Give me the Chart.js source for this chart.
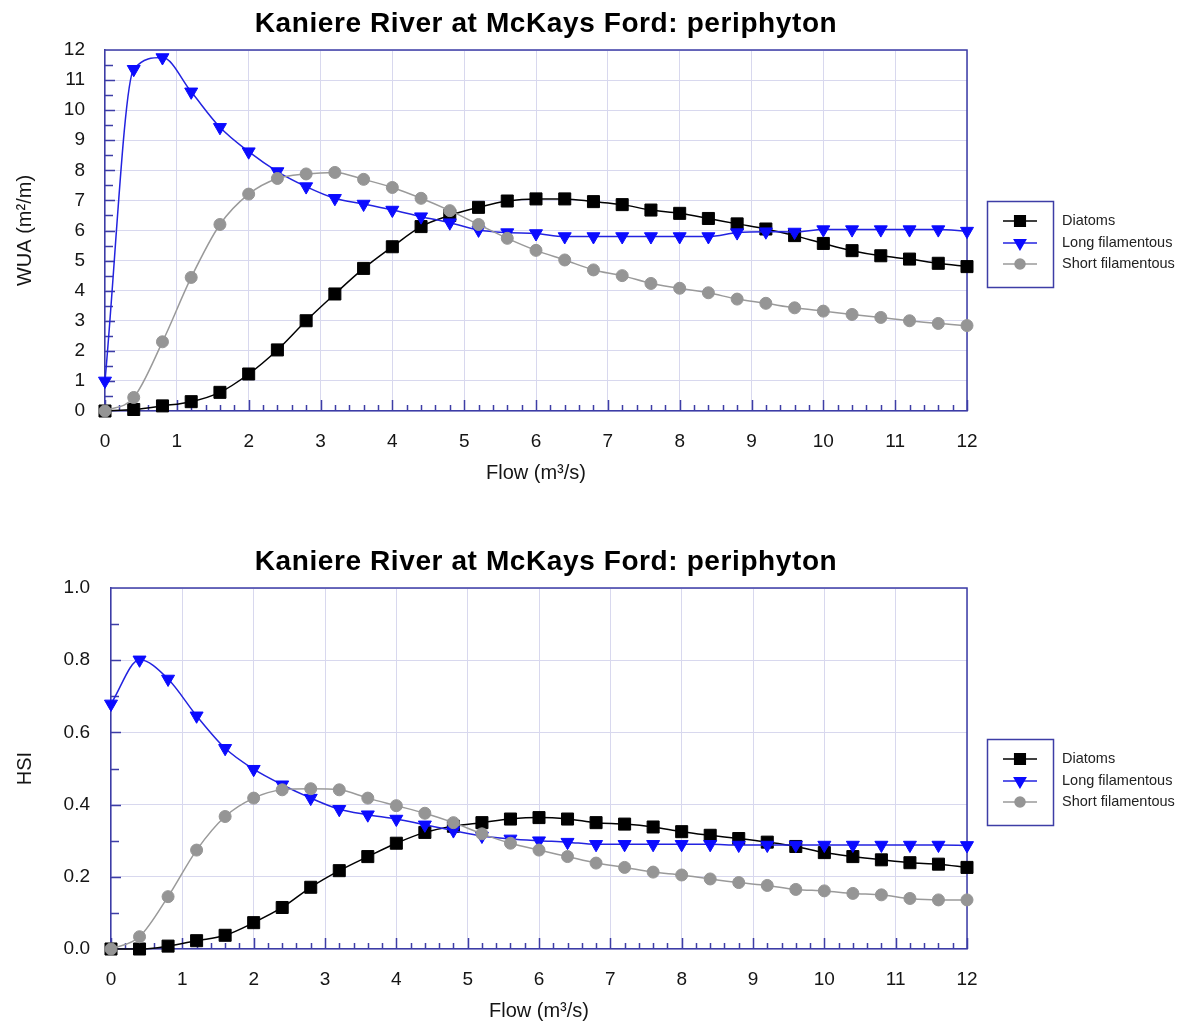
<!DOCTYPE html>
<html>
<head>
<meta charset="utf-8">
<title>Kaniere River at McKays Ford: periphyton</title>
<script src="https://cdn.jsdelivr.net/npm/chart.js@4.4.1/dist/chart.umd.min.js"></script>
<style>
  html, body { margin: 0; padding: 0; background: #fff; }
  canvas { position: absolute; left: 0; }
  #wuaChart { top: 0; }
  #hsiChart { top: 538px; }
</style>
</head>
<body>
<canvas id="wuaChart" width="1182" height="485"></canvas>
<canvas id="hsiChart" width="1182" height="485"></canvas>
<script>

// flow (m3/s) at which each curve was computed
const flow = [0, 0.4, 0.8, 1.2, 1.6, 2, 2.4, 2.8, 3.2, 3.6, 4, 4.4, 4.8, 5.2, 5.6, 6,
              6.4, 6.8, 7.2, 7.6, 8, 8.4, 8.8, 9.2, 9.6, 10, 10.4, 10.8, 11.2, 11.6, 12];

// WUA (m2/m)
const wuaDiatoms = [0, 0.05, 0.17, 0.31, 0.62, 1.23, 2.03, 3.0, 3.89, 4.74, 5.46, 6.13, 6.5, 6.77, 6.98, 7.05,
                    7.05, 6.96, 6.86, 6.68, 6.57, 6.4, 6.22, 6.05, 5.83, 5.57, 5.33, 5.16, 5.05, 4.91, 4.8];
const wuaLong = [1.0, 11.36, 11.75, 10.61, 9.43, 8.62, 7.96, 7.46, 7.07, 6.88, 6.68, 6.46, 6.26, 6.02, 5.93, 5.9,
                 5.8, 5.8, 5.8, 5.8, 5.8, 5.8, 5.93, 5.96, 5.95, 6.03, 6.03, 6.03, 6.03, 6.03, 5.98];
const wuaShort = [0, 0.45, 2.3, 4.44, 6.2, 7.21, 7.73, 7.88, 7.93, 7.7, 7.43, 7.07, 6.66, 6.2, 5.74, 5.34,
                  5.02, 4.69, 4.5, 4.24, 4.08, 3.93, 3.72, 3.58, 3.43, 3.32, 3.21, 3.11, 3.0, 2.91, 2.84];

// HSI
const hsiDiatoms = [0, 0, 0.008, 0.023, 0.038, 0.073, 0.115, 0.171, 0.217, 0.256, 0.293, 0.323, 0.34, 0.35, 0.36, 0.364,
                    0.36, 0.35, 0.346, 0.338, 0.325, 0.315, 0.306, 0.296, 0.284, 0.267, 0.256, 0.247, 0.239, 0.235, 0.226];
const hsiLong = [0.679, 0.801, 0.748, 0.646, 0.556, 0.498, 0.455, 0.418, 0.387, 0.372, 0.36, 0.344, 0.328, 0.313, 0.305, 0.3,
                 0.296, 0.29, 0.29, 0.29, 0.29, 0.29, 0.288, 0.288, 0.288, 0.288, 0.288, 0.288, 0.288, 0.288, 0.287];
const hsiShort = [0, 0.034, 0.145, 0.274, 0.367, 0.418, 0.441, 0.444, 0.441, 0.418, 0.397, 0.376, 0.35, 0.319, 0.293, 0.274,
                  0.256, 0.238, 0.226, 0.213, 0.205, 0.194, 0.184, 0.176, 0.165, 0.161, 0.154, 0.15, 0.14, 0.136, 0.136];

const seriesNames = ['Diatoms', 'Long filamentous', 'Short filamentous'];
const chartTitle = 'Kaniere River at McKays Ford: periphyton';

const FONT = '"Liberation Sans", Arial, sans-serif';
const AXIS_COLOR = '#3d3da6';
const GRID_COLOR = '#d8d8ee';
const TEXT_COLOR = '#151515';

const styles = [
  { line: '#000000', fill: '#000000', pointStyle: 'rect', radius: 8.5, rotation: 0, order: 2 },
  { line: '#2323e0', fill: '#0b0bff', pointStyle: 'triangle', radius: 7.5, rotation: 180, order: 1 },
  { line: '#9a9a9a', fill: '#959595', pointStyle: 'circle', radius: 6, rotation: 0, order: 0 }
];

// frame, minor ticks, title and the boxed legend
const periphytonDecor = {
  id: 'periphytonDecor',
  beforeDatasetsDraw(chart, args, opts) {
    const { ctx, chartArea: a, scales: { x, y } } = chart;
    ctx.save();
    ctx.strokeStyle = AXIS_COLOR;
    ctx.lineWidth = 1.5;
    ctx.beginPath();
    for (let i = 0; i <= 60; i++) {
      const px = Math.round(x.getPixelForValue(i * 0.2)) + 0.5;
      const len = i % 5 === 0 ? 11 : 6;
      ctx.moveTo(px, a.bottom);
      ctx.lineTo(px, a.bottom - len);
    }
    const n = Math.round((y.max - y.min) / opts.yMinor);
    for (let i = 1; i < n; i++) {
      const py = Math.round(y.getPixelForValue(y.min + i * opts.yMinor)) + 0.5;
      ctx.moveTo(a.left, py);
      ctx.lineTo(a.left + (i % 2 === 0 ? 10 : 8), py);
    }
    ctx.stroke();
    ctx.beginPath();
    ctx.moveTo(a.left, a.top);
    ctx.lineTo(a.right, a.top);
    ctx.lineTo(a.right, a.bottom);
    ctx.stroke();
    ctx.restore();
  },
  afterDraw(chart) {
    const { ctx } = chart;
    ctx.save();
    ctx.fillStyle = '#000';
    ctx.font = 'bold 28px ' + FONT;
    ctx.letterSpacing = '0.6px';
    ctx.textAlign = 'center';
    ctx.textBaseline = 'alphabetic';
    ctx.fillText(chartTitle, 546, 32);
    ctx.letterSpacing = '0px';

    ctx.strokeStyle = AXIS_COLOR;
    ctx.lineWidth = 1.5;
    ctx.strokeRect(987.5, 201.5, 66, 86);

    const rows = [221, 243, 264];
    ctx.font = '14.5px ' + FONT;
    ctx.textAlign = 'left';
    ctx.textBaseline = 'middle';
    chart.data.datasets.forEach((ds, i) => {
      const st = styles[i];
      const yy = rows[i];
      ctx.strokeStyle = st.line;
      ctx.lineWidth = 1.5;
      ctx.beginPath();
      ctx.moveTo(1003, yy);
      ctx.lineTo(1037, yy);
      ctx.stroke();
      ctx.fillStyle = st.fill;
      ctx.strokeStyle = st.fill;
      Chart.helpers.drawPoint(ctx, {
        pointStyle: st.pointStyle, rotation: st.rotation, radius: st.radius - 1, borderWidth: 1
      }, 1020, yy);
      ctx.fillStyle = '#222';
      ctx.fillText(ds.label, 1062, yy);
    });
    ctx.restore();
  }
};

function makeChart(canvasId, values, yTitle, yMax, yStep, yMinor, yWidth, yPad, decimals) {
  const datasets = values.map((vals, i) => ({
    label: seriesNames[i],
    data: flow.map((f, k) => ({ x: f, y: vals[k] })),
    borderColor: styles[i].line,
    backgroundColor: styles[i].fill,
    pointBackgroundColor: styles[i].fill,
    pointBorderColor: styles[i].fill,
    pointStyle: styles[i].pointStyle,
    pointRotation: styles[i].rotation,
    pointRadius: styles[i].radius,
    pointBorderWidth: 1,
    borderWidth: 1.5,
    cubicInterpolationMode: 'monotone',
    order: styles[i].order,
    clip: false
  }));

  return new Chart(document.getElementById(canvasId), {
    type: 'line',
    data: { datasets },
    plugins: [periphytonDecor],
    options: {
      responsive: false,
      animation: false,
      layout: { padding: { top: 50, right: 215, bottom: 0, left: 0 } },
      plugins: {
        legend: { display: false },
        tooltip: { enabled: false },
        title: { display: false },
        periphytonDecor: { yMinor }
      },
      scales: {
        x: {
          type: 'linear',
          min: 0,
          max: 12,
          ticks: { stepSize: 1, padding: 19, color: TEXT_COLOR, font: { size: 19, family: FONT } },
          grid: { color: GRID_COLOR, drawTicks: false, lineWidth: 1 },
          border: { color: AXIS_COLOR, width: 1.5 },
          title: {
            display: true, text: 'Flow (m³/s)', color: TEXT_COLOR,
            font: { size: 20, family: FONT }, padding: { top: 0, bottom: 0 }
          },
          afterFit(s) { s.height = 74; }
        },
        y: {
          min: 0,
          max: yMax,
          ticks: {
            stepSize: yStep, padding: yPad, color: TEXT_COLOR, font: { size: 19, family: FONT },
            callback: v => v.toFixed(decimals)
          },
          grid: { color: GRID_COLOR, drawTicks: false, lineWidth: 1 },
          border: { color: AXIS_COLOR, width: 1.5 },
          title: {
            display: true, text: yTitle, color: TEXT_COLOR,
            font: { size: 20, family: FONT }, padding: { top: 13, bottom: 0 }
          },
          afterFit(s) { s.width = yWidth; }
        }
      }
    }
  });
}

makeChart('wuaChart', [wuaDiatoms, wuaLong, wuaShort], 'WUA (m²/m)', 12, 1, 0.5, 105, 20, 0);
makeChart('hsiChart', [hsiDiatoms, hsiLong, hsiShort], 'HSI', 1, 0.2, 0.1, 111, 21, 1);
</script>
</body>
</html>
